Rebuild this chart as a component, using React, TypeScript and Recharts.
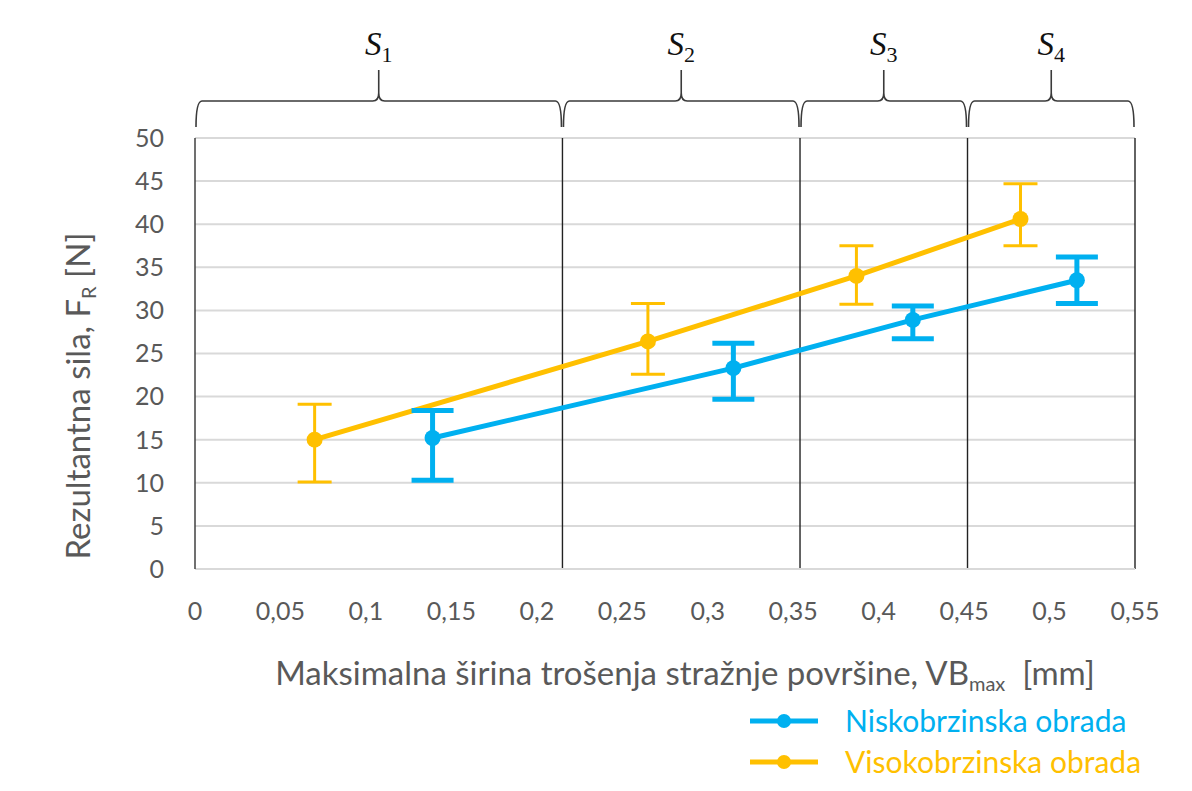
import React from "react";
import {
  LineChart,
  Line,
  XAxis,
  YAxis,
  CartesianGrid,
  ErrorBar,
  ReferenceLine,
  ReferenceArea,
  Legend,
  Label,
} from "recharts";

// Niskobrzinska obrada (low speed)
const lowX = [0.139, 0.315, 0.42, 0.516];
const lowY = [15.2, 23.3, 28.9, 33.5];
const lowErrDown = [4.9, 3.6, 2.2, 2.7];
const lowErrUp = [3.2, 2.9, 1.6, 2.7];

// Visokobrzinska obrada (high speed)
const highX = [0.07, 0.265, 0.387, 0.483];
const highY = [15.0, 26.4, 34.0, 40.6];
const highErrDown = [4.9, 3.8, 3.3, 3.1];
const highErrUp = [4.1, 4.4, 3.5, 4.1];

const xTicks = [0, 0.05, 0.1, 0.15, 0.2, 0.25, 0.3, 0.35, 0.4, 0.45, 0.5, 0.55];
const yTicks = [0, 5, 10, 15, 20, 25, 30, 35, 40, 45, 50];

// wear zones S1..S4
const zoneBounds = [0, 0.215, 0.354, 0.452, 0.55];
const zoneLabels = ["1", "2", "3", "4"];

const BLUE = "#00B0F0";
const ORANGE = "#FFC000";
const TEXT = "#595959";
const FONT = "Lato, 'Open Sans', sans-serif";

const lowData = lowX.map((x, i) => ({ x, y: lowY[i], err: [lowErrDown[i], lowErrUp[i]] }));
const highData = highX.map((x, i) => ({ x, y: highY[i], err: [highErrDown[i], highErrUp[i]] }));

const fmt = (v: number) => String(v).replace(".", ",");

// curly brace above each zone, drawn from the reference area rect
const makeBrace = (label: string) => (props: any) => {
  const { x, y, width } = props;
  const x1 = x + 1;
  const x2 = x + width - 1;
  const mid = (x1 + x2) / 2;
  const yh = y - 37;
  const yEnd = y - 11;
  const yTip = y - 68;
  const d =
    `M ${x1} ${yEnd} Q ${x1} ${yh} ${x1 + 6} ${yh} L ${mid - 6} ${yh} Q ${mid} ${yh} ${mid} ${yh - 8} L ${mid} ${yTip}` +
    ` M ${mid} ${yh - 8} Q ${mid} ${yh} ${mid + 6} ${yh} L ${x2 - 6} ${yh} Q ${x2} ${yh} ${x2} ${yEnd}`;
  return (
    <g>
      <path d={d} fill="none" stroke="#3a3a3a" strokeWidth={1.6} />
      <text x={mid} y={y - 83} textAnchor="middle" fontFamily="'Liberation Serif', serif" fill="#111">
        <tspan fontStyle="italic" fontSize={33}>S</tspan>
        <tspan fontSize={22} dy={7}>{label}</tspan>
      </text>
    </g>
  );
};

const renderXLabel = () => (
  <text x={685} y={685} textAnchor="middle" fontFamily={FONT} fontSize={33} fill={TEXT}>
    Maksimalna širina trošenja stražnje površine, VB
    <tspan fontSize={20} dy={6}>max</tspan>
    <tspan dy={-6}>{"\u00a0\u00a0[mm]"}</tspan>
  </text>
);

const renderYLabel = () => {
  const cx = 90;
  const cy = 396;
  return (
    <text
      x={cx}
      y={cy}
      transform={`rotate(-90 ${cx} ${cy})`}
      textAnchor="middle"
      fontFamily={FONT}
      fontSize={33}
      fill={TEXT}
    >
      Rezultantna sila, F
      <tspan fontSize={20} dy={6}>R</tspan>
      <tspan dy={-6}> [N]</tspan>
    </text>
  );
};

const legendItems = [
  { name: "Niskobrzinska obrada", color: BLUE },
  { name: "Visokobrzinska obrada", color: ORANGE },
];

const renderLegend = () => (
  <div style={{ fontFamily: FONT, fontSize: 30 }}>
    {legendItems.map((s) => (
      <div key={s.name} style={{ display: "flex", alignItems: "center", height: 41 }}>
        <svg width={100} height={20}>
          <line x1={5} x2={73} y1={10} y2={10} stroke={s.color} strokeWidth={5} />
          <circle cx={39} cy={10} r={7} fill={s.color} />
        </svg>
        <span style={{ color: s.color, lineHeight: "41px" }}>{s.name}</span>
      </div>
    ))}
  </div>
);

export default function App() {
  return (
    <div style={{ position: "absolute", left: 0, top: 0, width: 1192, height: 791, background: "#fff" }}>
      <LineChart
        width={1192}
        height={791}
        margin={{ top: 138, right: 57, left: 0, bottom: 142 }}
      >
        <CartesianGrid vertical={false} stroke="#d9d9d9" strokeWidth={2} />
        <XAxis
          type="number"
          dataKey="x"
          domain={[0, 0.55]}
          ticks={xTicks}
          tickFormatter={fmt}
          axisLine={{ stroke: "#d9d9d9", strokeWidth: 2 }}
          tickLine={false}
          tickSize={0}
          tickMargin={33}
          height={80}
          tick={{ fill: TEXT, fontSize: 25, fontFamily: FONT }}
        >
          <Label content={renderXLabel} />
        </XAxis>
        <YAxis
          type="number"
          domain={[0, 50]}
          ticks={yTicks}
          width={195}
          axisLine={{ stroke: "#404040", strokeWidth: 1.5 }}
          tickLine={false}
          tickSize={0}
          tickMargin={31}
          tick={{ fill: TEXT, fontSize: 25, fontFamily: FONT }}
        >
          <Label content={renderYLabel} />
        </YAxis>
        {zoneBounds.slice(1).map((b) => (
          <ReferenceLine key={b} x={b} stroke="#222" strokeWidth={1.4} />
        ))}
        {zoneLabels.map((lab, i) => (
          <ReferenceArea
            key={lab}
            x1={zoneBounds[i]}
            x2={zoneBounds[i + 1]}
            y1={0}
            y2={50}
            shape={makeBrace(lab)}
          />
        ))}
        <Line
          data={highData}
          dataKey="y"
          name="Visokobrzinska obrada"
          type="linear"
          stroke={ORANGE}
          strokeWidth={5}
          dot={{ r: 8, fill: ORANGE, stroke: ORANGE, strokeWidth: 0 }}
          isAnimationActive={false}
        >
          <ErrorBar dataKey="err" direction="y" width={17} stroke={ORANGE} strokeWidth={3} />
        </Line>
        <Line
          data={lowData}
          dataKey="y"
          name="Niskobrzinska obrada"
          type="linear"
          stroke={BLUE}
          strokeWidth={5}
          dot={{ r: 8, fill: BLUE, stroke: BLUE, strokeWidth: 0 }}
          isAnimationActive={false}
        >
          <ErrorBar dataKey="err" direction="y" width={21} stroke={BLUE} strokeWidth={5} />
        </Line>
        <Legend
          layout="vertical"
          align="center"
          verticalAlign="middle"
          content={renderLegend}
          wrapperStyle={{ left: 745, top: 700, width: 440 }}
        />
      </LineChart>
    </div>
  );
}
